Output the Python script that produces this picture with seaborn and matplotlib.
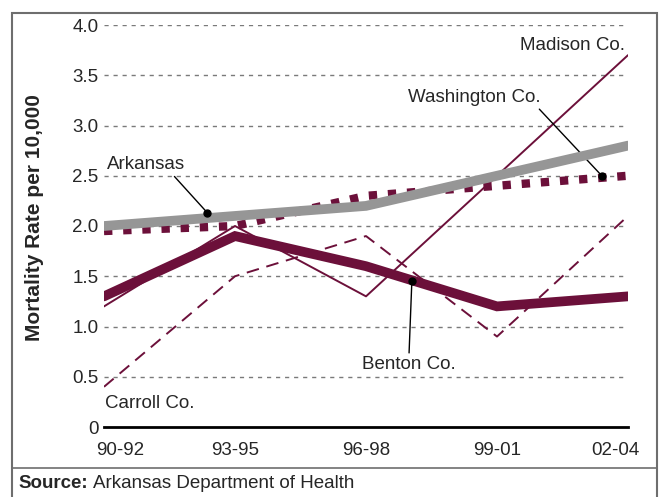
import matplotlib
matplotlib.use("Agg")
import pandas as pd
import seaborn as sns
import matplotlib.pyplot as plt
import matplotlib.transforms as mtransforms
from matplotlib.patches import Rectangle
from matplotlib.lines import Line2D

# Values
periods = ["90-92", "93-95", "96-98", "99-01", "02-04"]
arkansas = [2.0, 2.1, 2.2, 2.5, 2.8]
washington = [1.95, 2.0, 2.3, 2.4, 2.5]
benton = [1.3, 1.9, 1.6, 1.2, 1.3]
madison = [1.2, 2.0, 1.3, 2.5, 3.7]
carroll = [0.4, 1.5, 1.9, 0.9, 2.1]
y_ticks = [0, 0.5, 1.0, 1.5, 2.0, 2.5, 3.0, 3.5, 4.0]
y_tick_labels = ["0", "0.5", "1.0", "1.5", "2.0", "2.5", "3.0", "3.5", "4.0"]

maroon = "#6c103a"
gray = "#969696"
fs = 13.5

sns.set_theme(style="white")
plt.rcParams["font.family"] = ["Liberation Sans", "DejaVu Sans"]

fig = plt.figure(figsize=(6.65, 4.97), dpi=100)
ax = fig.add_axes([104 / 665, 1 - 427 / 497, (628 - 104) / 665, (427 - 25) / 497])

df = pd.DataFrame({"period": periods, "Arkansas": arkansas, "Washington Co.": washington,
                   "Benton Co.": benton, "Madison Co.": madison, "Carroll Co.": carroll})
df["x"] = range(len(periods))

# dashed grid lines
for v in y_ticks[1:]:
    ax.axhline(v, color="#7a7a7a", lw=1, ls=(0, (3, 3.5)), zorder=0)

sns.lineplot(data=df, x="x", y="Carroll Co.", ax=ax, color=maroon, lw=1.4,
             linestyle=(0, (6.5, 4)), zorder=2)
sns.lineplot(data=df, x="x", y="Madison Co.", ax=ax, color=maroon, lw=1.4, zorder=2)
sns.lineplot(data=df, x="x", y="Washington Co.", ax=ax, color=maroon, lw=6,
             linestyle=(0, (1.0, 1.3)), zorder=3)
ax.lines[-1].set_dash_capstyle("butt")
sns.lineplot(data=df, x="x", y="Arkansas", ax=ax, color=gray, lw=7, zorder=4)
ax.lines[-1].set_solid_joinstyle("miter")
sns.lineplot(data=df, x="x", y="Benton Co.", ax=ax, color=maroon, lw=7, zorder=5)
ax.lines[-1].set_solid_joinstyle("miter")

ax.set_xlim(0, 4)
ax.set_ylim(0, 4)
ax.set_xticks(range(len(periods)))
ax.set_xticklabels(periods, fontsize=fs)
ax.set_yticks(y_ticks)
ax.set_yticklabels(y_tick_labels, fontsize=fs)
ax.tick_params(axis="x", length=0, pad=11)
ax.tick_params(axis="y", length=0, pad=4)
# first and last period labels sit inside the plot edges
xlabs = ax.get_xticklabels()
xlabs[0].set_transform(xlabs[0].get_transform() +
                       mtransforms.ScaledTranslation(0.16, 0, fig.dpi_scale_trans))
xlabs[-1].set_transform(xlabs[-1].get_transform() +
                        mtransforms.ScaledTranslation(-0.13, 0, fig.dpi_scale_trans))
ax.set_xlabel("")
ax.set_ylabel("Mortality Rate per 10,000", fontsize=15, fontweight="bold")
ax.yaxis.set_label_coords((44 - 104) / 524, (427 - 218) / 402)
for s in ["top", "right", "left"]:
    ax.spines[s].set_visible(False)
ax.spines["bottom"].set_color("black")
ax.spines["bottom"].set_linewidth(2)
ax.patch.set_alpha(0)

# labels and leader lines
ax.text(3.98, 3.8, "Madison Co.", fontsize=fs, ha="right", va="center")
ax.annotate("Washington Co.", xy=(3.8, 2.5), xytext=(3.33, 3.28), fontsize=fs,
            ha="right", va="center",
            arrowprops=dict(arrowstyle="-", color="black", lw=1, shrinkA=0, shrinkB=0,
                            relpos=(0.97, 0.0)))
ax.plot([3.8], [2.5], "o", color="black", ms=5, zorder=7)
ax.annotate("Arkansas", xy=(0.79, 2.13), xytext=(0.02, 2.61), fontsize=fs,
            ha="left", va="center",
            arrowprops=dict(arrowstyle="-", color="black", lw=1, shrinkA=0, shrinkB=0,
                            relpos=(0.83, 0.0)))
ax.plot([0.79], [2.13], "o", color="black", ms=5, zorder=7)
ax.annotate("Benton Co.", xy=(2.35, 1.45), xytext=(1.97, 0.62), fontsize=fs,
            ha="left", va="center",
            arrowprops=dict(arrowstyle="-", color="black", lw=1, shrinkA=0, shrinkB=0,
                            relpos=(0.5, 1.0)))
ax.plot([2.35], [1.45], "o", color="black", ms=5, zorder=7)
ax.text(0.01, 0.23, "Carroll Co.", fontsize=fs, ha="left", va="center")

# outer frame and source line
fig.patches.append(Rectangle((12 / 665, -0.05), 645 / 665, 1.05 - 13 / 497,
                             transform=fig.transFigure, fill=False,
                             edgecolor="#6e6e6e", lw=1.5))
fig.lines.append(Line2D([12 / 665, 657 / 665], [1 - 468 / 497] * 2,
                        transform=fig.transFigure, color="#6e6e6e", lw=1.2))
fig.text(18 / 665, 1 - 484 / 497, "Source:", fontsize=fs, fontweight="bold", va="center")
fig.text(93 / 665, 1 - 484 / 497, "Arkansas Department of Health", fontsize=fs, va="center")

fig.savefig("out.png", dpi=100)
